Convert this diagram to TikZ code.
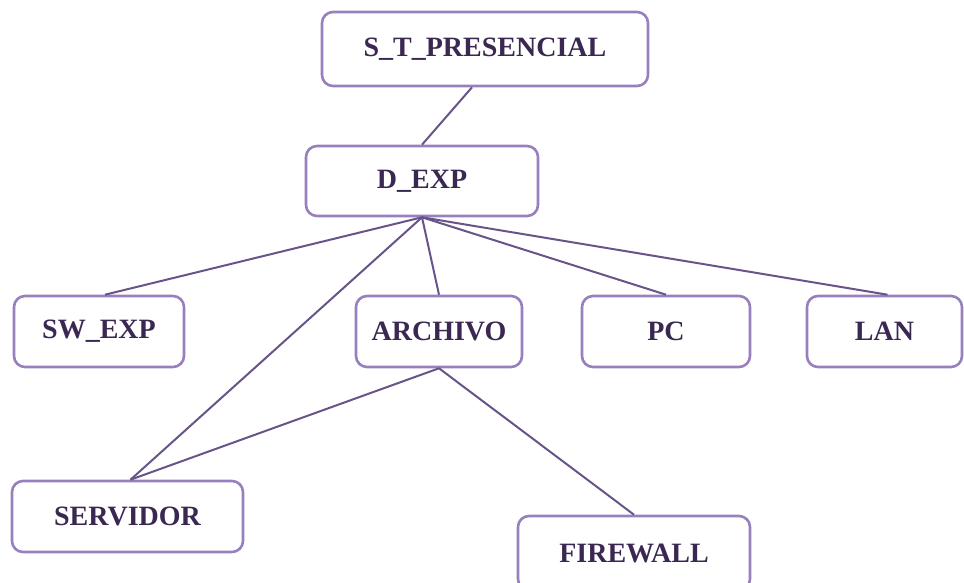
\documentclass[tikz,border=0pt]{standalone}
\usepackage{fontspec}
\setmainfont{Liberation Serif}
\definecolor{boxline}{RGB}{152,128,190}
\definecolor{linkline}{RGB}{104,84,136}
\definecolor{labeltext}{RGB}{58,40,82}
\begin{document}
\begin{tikzpicture}[x=1pt,y=-1pt,
  entity/.style={draw=boxline, line width=2.6pt, rounded corners=11pt, fill=white,
    inner sep=0pt, text=labeltext, font=\fontsize{28}{30}\selectfont\bfseries},
  link/.style={draw=linkline, line width=2pt}]
\useasboundingbox (0,0) rectangle (964,583);
% boxes: centre, width, height
\node[entity, minimum width=326pt, minimum height=74pt] (st) at (485,49) {S\_T\_PRESENCIAL};
\node[entity, minimum width=232pt, minimum height=70pt] (d) at (422,181) {D\_EXP};
\node[entity, minimum width=170pt, minimum height=71pt] (sw) at (99,331.5) {SW\_EXP};
\node[entity, minimum width=166pt, minimum height=71pt] (ar) at (439,331.5) {ARCHIVO};
\node[entity, minimum width=168pt, minimum height=71pt] (pc) at (666,331.5) {PC};
\node[entity, minimum width=155pt, minimum height=71pt] (lan) at (884.5,331.5) {LAN};
\node[entity, minimum width=231pt, minimum height=71pt] (sv) at (127.5,516.5) {SERVIDOR};
\node[entity, minimum width=232pt, minimum height=74pt] (fw) at (634,553) {FIREWALL};
% connectors
\draw[link] ([xshift=-13pt]st.south) -- (d.north);
\draw[link] (d.south) -- ([xshift=6pt]sw.north);
\draw[link] (d.south) -- (ar.north);
\draw[link] (d.south) -- (pc.north);
\draw[link] (d.south) -- ([xshift=3pt]lan.north);
\draw[link] (d.south) -- ([xshift=3pt]sv.north);
\draw[link] (ar.south) -- ([xshift=3pt]sv.north);
\draw[link] (ar.south) -- (fw.north);
\end{tikzpicture}
\end{document}
